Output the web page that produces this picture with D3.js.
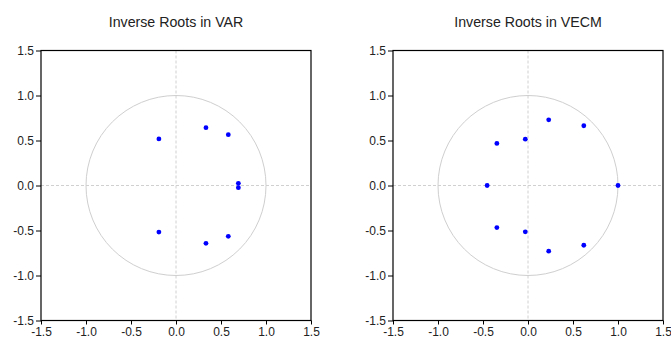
<!DOCTYPE html>
<html>
<head>
<meta charset="utf-8">
<script src="https://cdn.jsdelivr.net/npm/d3@7"></script>
<style>
  html, body { margin: 0; padding: 0; background: #fff; }
  svg { display: block; }
  text { font-family: "Liberation Sans", Arial, sans-serif; fill: #222; }
</style>
</head>
<body>
<svg id="chart" width="671" height="338"></svg>
<script>
// Inverse roots of the characteristic polynomial (real, imaginary parts)
const varRe = [-0.19, -0.19, 0.333, 0.333, 0.581, 0.581, 0.693, 0.693];
const varIm = [0.517, -0.517, 0.643, -0.643, 0.565, -0.565, 0.024, -0.024];

const vecmRe = [-0.346, -0.346, -0.03, -0.03, 0.23, 0.23, 0.62, 0.62, -0.454, 1.0];
const vecmIm = [0.467, -0.467, 0.515, -0.515, 0.73, -0.73, 0.664, -0.664, 0.0, 0.0];

const tickValues = [-1.5, -1.0, -0.5, 0.0, 0.5, 1.0, 1.5];
const titles = ["Inverse Roots in VAR", "Inverse Roots in VECM"];

const svg = d3.select("#chart");
// one decimal, plain hyphen for negatives
const fmt = v => v.toFixed(1);

function panel(x0, x1, y0, y1, title, re, im) {
  const x = d3.scaleLinear().domain([-1.5, 1.5]).range([x0, x1]);
  const y = d3.scaleLinear().domain([-1.5, 1.5]).range([y1, y0]);
  const g = svg.append("g");

  // dashed zero reference lines
  g.append("line")
    .attr("x1", x(0)).attr("x2", x(0)).attr("y1", y0).attr("y2", y1)
    .attr("stroke", "#d0d0d0").attr("stroke-width", 1).attr("stroke-dasharray", "3,2");
  g.append("line")
    .attr("x1", x0).attr("x2", x1).attr("y1", y(0)).attr("y2", y(0))
    .attr("stroke", "#d0d0d0").attr("stroke-width", 1).attr("stroke-dasharray", "3,2");

  // unit circle
  g.append("circle")
    .attr("cx", x(0)).attr("cy", y(0)).attr("r", x(1) - x(0))
    .attr("fill", "none").attr("stroke", "#cfcfcf").attr("stroke-width", 1);

  // roots
  g.selectAll("circle.root").data(re.map((r, i) => [r, im[i]]))
    .enter().append("circle").attr("class", "root")
    .attr("cx", d => x(d[0])).attr("cy", d => y(d[1]))
    .attr("r", 2.4).attr("fill", "#0000ff");

  // frame
  g.append("rect")
    .attr("x", x0).attr("y", y0).attr("width", x1 - x0).attr("height", y1 - y0)
    .attr("fill", "none").attr("stroke", "#000").attr("stroke-width", 1.2);

  const xAxis = g.append("g").attr("transform", `translate(0,${y1})`)
    .call(d3.axisBottom(x).tickValues(tickValues).tickFormat(fmt).tickSize(4).tickPadding(3));
  const yAxis = g.append("g").attr("transform", `translate(${x0},0)`)
    .call(d3.axisLeft(y).tickValues(tickValues).tickFormat(fmt).tickSize(5).tickPadding(2));
  [xAxis, yAxis].forEach(a => {
    a.select(".domain").remove();
    a.selectAll("line").attr("stroke", "#000");
    a.selectAll("text").attr("font-size", 12).attr("fill", "#222")
      .attr("font-family", "'Liberation Sans', Arial, sans-serif");
  });

  g.append("text")
    .attr("x", (x0 + x1) / 2).attr("y", 27.3)
    .attr("text-anchor", "middle").attr("font-size", 14.2)
    .text(title);
}

panel(41, 311, 50.5, 320.5, titles[0], varRe, varIm);
panel(393, 663, 50.5, 320.5, titles[1], vecmRe, vecmIm);
</script>
</body>
</html>
